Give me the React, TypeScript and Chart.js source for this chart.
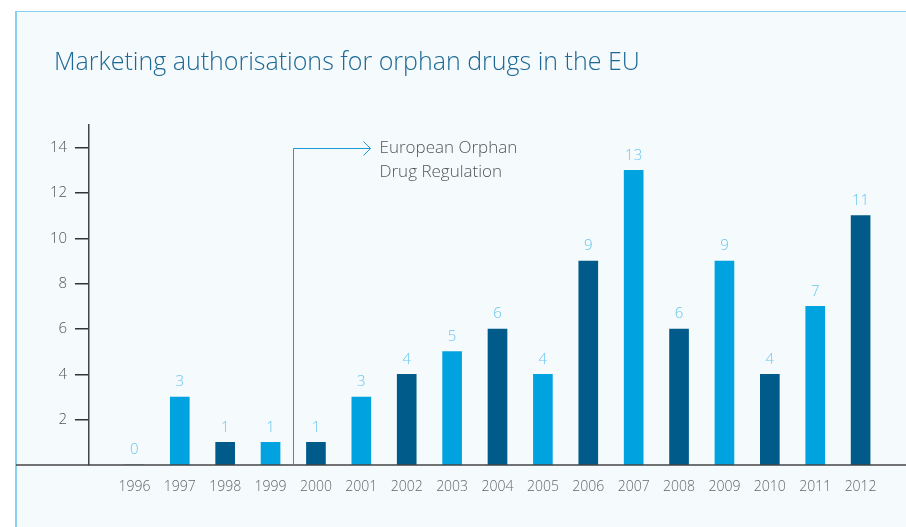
import React, { useEffect, useRef } from "react";
import { Chart, registerables } from "chart.js";

Chart.register(...registerables);

const years = [1996, 1997, 1998, 1999, 2000, 2001, 2002, 2003, 2004, 2005, 2006, 2007, 2008, 2009, 2010, 2011, 2012];
const authorisations = [0, 3, 1, 1, 1, 3, 4, 5, 6, 4, 9, 13, 6, 9, 4, 7, 11];
const yTickValues = [2, 4, 6, 8, 10, 12, 14];
const titleText = "Marketing authorisations for orphan drugs in the EU";
const annotationLines = ["European Orphan", "Drug Regulation"];
const regulationYear = 1999.5;

const LIGHT = "#00a3e0";
const DARK = "#005b8a";
const FONT = "'Open Sans', Lato, sans-serif";

export default function App() {
  const ref = useRef<HTMLCanvasElement | null>(null);

  useEffect(() => {
    const canvas = ref.current;
    if (!canvas) return;

    const decor = {
      id: "decor",
      beforeDraw(chart: any) {
        const ctx = chart.ctx;
        ctx.save();
        ctx.fillStyle = "#ffffff";
        ctx.fillRect(0, 0, chart.width, chart.height);
        ctx.fillStyle = "#f5fafd";
        ctx.fillRect(16, 11, chart.width - 16, chart.height - 11);
        ctx.strokeStyle = "#86d1f1";
        ctx.lineWidth = 1;
        ctx.beginPath();
        ctx.moveTo(16, 11.5);
        ctx.lineTo(chart.width, 11.5);
        ctx.stroke();
        ctx.lineWidth = 2;
        ctx.beginPath();
        ctx.moveTo(16, 11);
        ctx.lineTo(16, chart.height);
        ctx.stroke();
        ctx.fillStyle = "#1d6894";
        ctx.font = `300 25px ${FONT}`;
        ctx.textBaseline = "alphabetic";
        ctx.textAlign = "left";
        ctx.fillText(titleText, 54, 70);
        ctx.restore();
      },
      afterDatasetsDraw(chart: any) {
        const ctx = chart.ctx;
        const xs = chart.scales.x;
        const ys = chart.scales.y;
        ctx.save();
        ctx.strokeStyle = "#444";
        ctx.lineWidth = 1.5;
        ctx.beginPath();
        ctx.moveTo(16, ys.getPixelForValue(0));
        ctx.lineTo(chart.width, ys.getPixelForValue(0));
        ctx.stroke();
        const meta = chart.getDatasetMeta(0);
        ctx.fillStyle = "#6cc6ee";
        ctx.font = `300 15px ${FONT}`;
        ctx.textAlign = "center";
        ctx.textBaseline = "middle";
        meta.data.forEach((bar: any, i: number) => {
          ctx.fillText(String(authorisations[i]), bar.x, bar.y - 15);
        });
        const ax = Math.round(xs.getPixelForValue(regulationYear)) + 0.5;
        const ay = Math.round(ys.getPixelForValue(14)) + 0.5;
        const tipX = ax + 77;
        ctx.strokeStyle = "#1b9ad6";
        ctx.lineWidth = 1;
        ctx.beginPath();
        ctx.moveTo(ax, ys.getPixelForValue(0));
        ctx.lineTo(ax, ay);
        ctx.lineTo(tipX, ay);
        ctx.moveTo(tipX - 7, ay - 7);
        ctx.lineTo(tipX, ay);
        ctx.lineTo(tipX - 7, ay + 7);
        ctx.stroke();
        ctx.fillStyle = "#555";
        ctx.font = `300 17px ${FONT}`;
        ctx.textAlign = "left";
        ctx.textBaseline = "middle";
        ctx.fillText(annotationLines[0], tipX + 9, ay);
        ctx.fillText(annotationLines[1], tipX + 9, ay + 24);
        ctx.restore();
      },
    };

    const chart = new Chart(canvas, {
      type: "bar",
      data: {
        datasets: [
          {
            data: years.map((y, i) => ({ x: y, y: authorisations[i] })),
            backgroundColor: years.map((_, i) => (i % 2 === 1 ? LIGHT : DARK)),
            barThickness: 19,
          },
        ],
      },
      options: {
        animation: false,
        responsive: false,
        maintainAspectRatio: false,
        layout: { padding: { left: 0, right: 0, top: 125, bottom: 0 } },
        plugins: { legend: { display: false }, tooltip: { enabled: false } },
        scales: {
          x: {
            type: "linear",
            offset: false,
            min: 1995,
            max: 2013,
            afterFit(scale: any) {
              scale.height = 62;
              scale.paddingLeft = 0;
              scale.paddingRight = 0;
            },
            afterBuildTicks(scale: any) {
              scale.ticks = years.map((v) => ({ value: v }));
            },
            ticks: {
              callback: (v: any) => String(v),
              color: "#666",
              font: { family: FONT, size: 14, weight: "300" },
              padding: 14,
              autoSkip: false,
              maxRotation: 0,
            },
            grid: { display: false, drawTicks: false },
            border: { display: false },
          },
          y: {
            min: 0,
            max: 15,
            afterFit(scale: any) {
              scale.width = 89;
            },
            afterBuildTicks(scale: any) {
              scale.ticks = yTickValues.map((v) => ({ value: v }));
            },
            ticks: {
              color: "#555",
              font: { family: FONT, size: 15, weight: "300" },
              padding: 8,
            },
            grid: {
              drawOnChartArea: false,
              drawTicks: true,
              tickLength: 14,
              color: "#333",
              lineWidth: 1.5,
            },
            border: { display: true, color: "#444", width: 1.5 },
          },
        },
      },
      plugins: [decor],
    });
    return () => chart.destroy();
  }, []);

  return (
    <div style={{ position: "fixed", left: 0, top: 0, width: 906, height: 527 }}>
      <canvas ref={ref} width={906} height={527} style={{ width: 906, height: 527, display: "block" }} />
    </div>
  );
}
